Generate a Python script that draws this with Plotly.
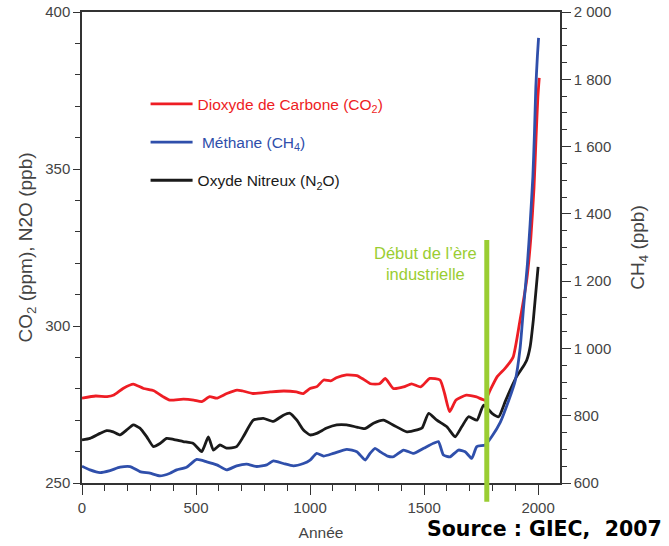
import plotly.graph_objects as go

# ---------------- data ----------------
co2_years = [0, 60, 110, 140, 180, 225, 270, 315, 355, 385, 445, 490, 525, 560, 590, 635, 680, 705, 750,
             825, 885, 940, 970, 1000, 1030, 1060, 1090, 1115, 1160, 1205, 1235, 1265, 1305, 1330, 1365,
             1410, 1445, 1485, 1525, 1570, 1590, 1612, 1640, 1685, 1730, 1768, 1790, 1820, 1855, 1890,
             1921, 1950, 1968, 1982, 1991, 1999, 2005]
co2_ppm = [277.0, 277.7, 277.5, 278.0, 280.1, 281.5, 280.1, 279.4, 277.5, 276.4, 276.7, 276.4, 275.9,
           277.5, 277.0, 278.5, 279.6, 279.3, 278.5, 279.0, 279.3, 279.0, 278.5, 280.1, 280.7, 282.8,
           282.5, 283.5, 284.4, 284.2, 283.0, 281.6, 281.6, 283.3, 280.1, 280.6, 281.6, 280.6, 283.3,
           282.8, 278.5, 272.7, 276.4, 278.0, 277.4, 276.4, 279.6, 283.8, 286.5, 290.0, 302.0, 314.6,
           328.0, 344.0, 360.0, 373.0, 379.0]

n2o_years = [0, 35, 79, 108, 137, 167, 196, 225, 254, 284, 313, 342, 371, 401, 444, 488, 525, 554, 576,
             605, 634, 678, 707, 751, 795, 839, 883, 912, 942, 971, 1000, 1029, 1073, 1117, 1161, 1205,
             1240, 1278, 1322, 1366, 1425, 1469, 1491, 1520, 1556, 1600, 1636, 1665, 1695, 1732, 1761,
             1798, 1827, 1856, 1880, 1905, 1934, 1950, 1965, 1979, 2000]
n2o_ppb = [263.7, 264.2, 265.8, 266.7, 266.3, 265.3, 266.9, 268.5, 267.5, 264.7, 261.6, 262.6, 264.2,
           263.9, 263.2, 262.6, 260.0, 264.7, 260.5, 262.1, 261.1, 261.6, 264.7, 270.0, 270.6, 269.6,
           271.6, 272.2, 270.0, 266.9, 265.3, 265.8, 267.5, 268.5, 268.5, 267.8, 267.3, 269.0, 270.0,
           268.4, 266.3, 266.9, 267.5, 272.2, 270.0, 267.9, 264.7, 267.9, 271.1, 270.0, 274.8, 272.2,
           271.1, 276.0, 280.0, 283.8, 287.0, 289.1, 293.4, 301.9, 318.8]

ch4_years = [0, 35, 79, 123, 167, 211, 254, 298, 342, 386, 415, 459, 503, 547, 591, 634, 678, 722, 766,
             810, 839, 883, 927, 971, 1000, 1029, 1059, 1102, 1161, 1205, 1242, 1263, 1285, 1307, 1340,
             1366, 1410, 1454, 1498, 1541, 1563, 1585, 1614, 1651, 1680, 1709, 1731, 1768, 1797, 1834,
             1871, 1900, 1921, 1936, 1953, 1965, 1977, 1984, 1990, 1997, 2002]
ch4_ppb = [650, 639, 631, 637, 647, 649, 634, 629, 621, 629, 639, 647, 670, 663, 654, 639, 651, 656, 649,
           654, 666, 658, 651, 658, 668, 688, 680, 688, 700, 693, 668, 688, 703, 693, 680, 678, 698, 688,
           703, 718, 723, 683, 678, 698, 693, 673, 708, 713, 738, 780, 845, 905, 1000, 1120, 1250, 1370,
           1510, 1640, 1777, 1870, 1923]

industrial_start = 1775

x_tick_vals = [0, 500, 1000, 1500, 2000]
x_tick_text = ["0", "500", "1000", "1500", "2000"]
left_tick_vals = [250, 300, 350, 400]
left_tick_text = ["250", "300", "350", "400"]
right_tick_vals = [600, 800, 1000, 1200, 1400, 1600, 1800, 2000]
right_tick_text = ["600", "800", "1 000", "1 200", "1 400", "1 600", "1 800", "2 000"]

# ---------------- styles ----------------
RED = "#ee1d24"
BLUE = "#2f4fab"
BLACK = "#1a1a1a"
GREEN = "#9acd32"
AXIS = "#333333"
FONT = "Liberation Sans, Arial, sans-serif"
TICKFONT = dict(family=FONT, size=15, color="#444444")

fig = go.Figure()

fig.add_trace(go.Scatter(
    x=co2_years, y=co2_ppm, mode="lines", yaxis="y",
    line=dict(color=RED, width=2.8, shape="spline", smoothing=0.5),
    name='<span style="color:%s">Dioxyde de Carbone (CO<sub>2</sub>)</span>' % RED,
    legendgroup="a"))
fig.add_trace(go.Scatter(
    x=ch4_years, y=ch4_ppb, mode="lines", yaxis="y2",
    line=dict(color=BLUE, width=2.8, shape="spline", smoothing=0.5),
    name='<span style="color:%s"> Méthane (CH<sub>4</sub>)</span>' % BLUE,
    legendgroup="b"))
fig.add_trace(go.Scatter(
    x=n2o_years, y=n2o_ppb, mode="lines", yaxis="y",
    line=dict(color=BLACK, width=2.8, shape="spline", smoothing=0.5),
    name='<span style="color:%s">Oxyde Nitreux (N<sub>2</sub>O)</span>' % BLACK,
    legendgroup="c"))

fig.add_shape(type="line", xref="x", yref="paper",
              x0=industrial_start, x1=industrial_start, y0=-0.04, y1=0.516,
              line=dict(color=GREEN, width=5), layer="above")

fig.add_annotation(xref="x", yref="paper", x=1505, y=0.467,
                   text="Début de l’ère<br>industrielle", showarrow=False,
                   font=dict(family=FONT, size=16.5, color=GREEN), align="center")

fig.add_annotation(xref="paper", yref="paper", x=1.218, y=-0.097, xanchor="right", yanchor="middle",
                   text="<b>Source : GIEC,  2007</b>", showarrow=False,
                   font=dict(family="DejaVu Sans, Verdana, sans-serif", size=20.5, color="#000000"))

fig.update_layout(
    width=669, height=546,
    margin=dict(l=82, r=109, t=12, b=63, autoexpand=False),
    paper_bgcolor="white", plot_bgcolor="white",
    showlegend=True,
    legend=dict(x=0.133, y=0.84, xanchor="left", yanchor="top", bgcolor="rgba(0,0,0,0)",
                font=dict(family=FONT, size=15.5), tracegroupgap=15, traceorder="grouped",
                itemwidth=42),
    xaxis=dict(range=[0, 2096], showgrid=False, zeroline=False, automargin=False,
               showline=True, linecolor=AXIS, linewidth=1.5, mirror=True,
               ticks="outside", ticklen=10, tickcolor=AXIS, tickwidth=1.3,
               tickvals=x_tick_vals, ticktext=x_tick_text, tickfont=TICKFONT,
               minor=dict(dtick=100, tick0=0, ticks="outside", ticklen=6, tickcolor=AXIS, tickwidth=1.3),
               title=dict(text="Année", font=dict(family=FONT, size=15.5, color="#444444"), standoff=12)),
    yaxis=dict(range=[250, 400], showgrid=False, zeroline=False, automargin=False,
               showline=True, linecolor=AXIS, linewidth=1.5,
               ticks="outside", ticklen=7, tickcolor=AXIS, tickwidth=1.3,
               tickvals=left_tick_vals, ticktext=left_tick_text, tickfont=TICKFONT,
               minor=dict(dtick=10, tick0=250, ticks="outside", ticklen=5, tickcolor=AXIS, tickwidth=1.3),
               title=dict(text="CO<sub>2</sub> (ppm), N2O (ppb)", font=dict(family=FONT, size=19, color="#444444"),
                          standoff=8)),
    yaxis2=dict(range=[600, 2000], overlaying="y", side="right", showgrid=False, zeroline=False,
                automargin=False,
                showline=True, linecolor=AXIS, linewidth=1.5,
                ticks="outside", ticklen=9, tickcolor=AXIS, tickwidth=1.3,
                tickvals=right_tick_vals, ticktext=right_tick_text, tickfont=TICKFONT,
                minor=dict(dtick=50, tick0=600, ticks="outside", ticklen=5, tickcolor=AXIS, tickwidth=1.3),
                title=dict(text="CH<sub>4</sub> (ppb)", font=dict(family=FONT, size=19, color="#444444"),
                           standoff=20)),
)

fig.write_html("out.html", config={"displayModeBar": False},
               post_script="document.body.style.margin='0';document.body.style.overflow='hidden';")
